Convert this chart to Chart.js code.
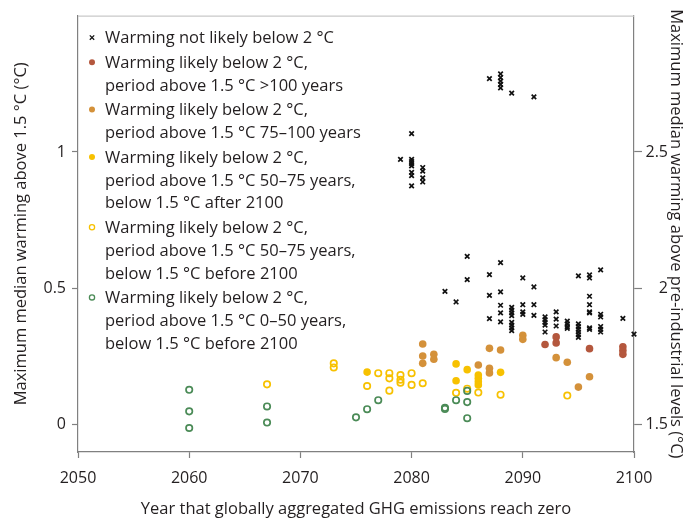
<!DOCTYPE html>
<html><head><meta charset="utf-8">
<script src="https://cdn.jsdelivr.net/npm/chart.js@4"></script>
<style>html,body{margin:0;padding:0;background:#fff}#wrap{width:686px;height:519px}</style>
</head><body>
<div id="wrap"><canvas id="c" width="686" height="519"></canvas></div>
<script>
// ---- tick labels ----
const xTickValues = [2050, 2060, 2070, 2080, 2090, 2100];
const leftTickValues = [0, 0.5, 1];
const rightTickValues = [1.5, 2, 2.5];

// ---- series: Warming not likely below 2 °C ----
const notLikelyYears = [2079,
  2080,2080,2080,2080,2080,2080,2080,2080,
  2081,2081,2081,2081,
  2083, 2084, 2085,2085,
  2087,2087,2087,2087,
  2088,2088,2088,2088,2088,2088,2088,2088,2088,2088,
  2089,2089,2089,2089,2089,2089,2089,2089,2089,
  2090,2090,2090,2090,
  2091,2091,2091,2091,
  2092,2092,2092,2092,2092,
  2093,2093,2093,
  2094,2094,2094,2094,
  2095,2095,2095,2095,2095,2095,2095,
  2096,2096,2096,2096,2096,2096,2096,2096,
  2097,2097,2097,2097,2097,2097,
  2099, 2100];
const notLikelyValues = [0.973,
  1.067,0.973,0.965,0.957,0.949,0.925,0.913,0.876,
  0.943,0.93,0.905,0.89,
  0.489, 0.45, 0.617,0.532,
  1.269,0.55,0.474,0.389,
  1.286,1.273,1.26,1.248,1.235,0.594,0.487,0.438,0.41,0.377,
  1.216,0.43,0.42,0.41,0.40,0.375,0.365,0.355,0.345,
  0.538,0.44,0.414,0.405,
  1.202,0.505,0.44,0.401,
  0.395,0.385,0.375,0.365,0.34,
  0.414,0.387,0.362,
  0.38,0.37,0.36,0.353,
  0.546,0.37,0.36,0.35,0.34,0.33,0.32,
  0.549,0.538,0.471,0.44,0.414,0.41,0.355,0.35,
  0.568,0.405,0.395,0.36,0.35,0.34,
  0.39, 0.332];

// ---- period above 1.5 °C >100 years ----
const over100Years = [2092,2093,2093,2096,2099,2099,2099];
const over100Values = [0.294,0.322,0.30,0.279,0.286,0.272,0.258];

// ---- period above 1.5 °C 75–100 years ----
const p75to100Years = [2081,2081,2081,2082,2082,2086,2087,2087,2087,2088,2090,2090,2093,2094,2095,2096];
const p75to100Values = [0.296,0.252,0.225,0.258,0.24,0.219,0.28,0.207,0.19,0.274,0.328,0.313,0.246,0.229,0.138,0.176];

// ---- 50–75 years, below 1.5 °C after 2100 ----
const p50to75AfterYears = [2076,2084,2084,2085,2086,2086,2086,2086,2088];
const p50to75AfterValues = [0.193,0.223,0.161,0.202,0.182,0.17,0.158,0.146,0.192];

// ---- 50–75 years, below 1.5 °C before 2100 ----
const p50to75BeforeYears = [2067,2073,2073,2076,2077,2078,2078,2078,2079,2079,2079,2080,2080,2081,2084,2085,2086,2088,2094];
const p50to75BeforeValues = [0.148,0.225,0.21,0.142,0.189,0.189,0.17,0.125,0.182,0.165,0.154,0.189,0.146,0.152,0.117,0.132,0.118,0.11,0.107];

// ---- 0–50 years, below 1.5 °C before 2100 ----
const p0to50Years = [2060,2060,2060,2067,2067,2075,2076,2077,2083,2083,2084,2085,2085,2085];
const p0to50Values = [0.128,0.049,-0.012,0.067,0.008,0.027,0.057,0.09,0.062,0.058,0.09,0.124,0.083,0.024];

// ---- legend labels ----
const legendLabels = [
  ['Warming not likely below 2 °C'],
  ['Warming likely below 2 °C,', 'period above 1.5 °C >100 years'],
  ['Warming likely below 2 °C,', 'period above 1.5 °C 75\u2013100 years'],
  ['Warming likely below 2 °C,', 'period above 1.5 °C 50\u201375 years,', 'below 1.5 °C after 2100'],
  ['Warming likely below 2 °C,', 'period above 1.5 °C 50\u201375 years,', 'below 1.5 °C before 2100'],
  ['Warming likely below 2 °C,', 'period above 1.5 °C 0\u201350 years,', 'below 1.5 °C before 2100']
];

const FONT = '"Open Sans", "Noto Sans", sans-serif';
const TEXT = '#231f20';
const AXIS = '#808080';
const COL_BROWN = '#b4573d', COL_OCHRE = '#d4913a', COL_YELLOW = '#f7c100', COL_GREEN = '#4b8b57';

const pts = (xs, ys) => xs.map((x, i) => ({x: x, y: ys[i]}));

const styles = [
  {type: 'cross', color: '#111'},
  {type: 'fill', color: COL_BROWN},
  {type: 'fill', color: COL_OCHRE},
  {type: 'fill', color: COL_YELLOW},
  {type: 'open', color: COL_YELLOW},
  {type: 'open', color: COL_GREEN}
];
function dsFor(data, st, order) {
  const base = {data: data, order: order, showLine: false, clip: false};
  if (st.type === 'cross') return Object.assign(base, {pointStyle: 'crossRot', pointRadius: 3.2, borderWidth: 1.7, borderColor: st.color, backgroundColor: st.color});
  if (st.type === 'fill') return Object.assign(base, {pointStyle: 'circle', pointRadius: 3.8, borderWidth: 0, borderColor: st.color, backgroundColor: st.color});
  return Object.assign(base, {pointStyle: 'circle', pointRadius: 3.2, borderWidth: 1.7, borderColor: st.color, backgroundColor: 'rgba(255,255,255,0)'});
}
const seriesData = [
  pts(notLikelyYears, notLikelyValues),
  pts(over100Years, over100Values),
  pts(p75to100Years, p75to100Values),
  pts(p50to75AfterYears, p50to75AfterValues),
  pts(p50to75BeforeYears, p50to75BeforeValues),
  pts(p0to50Years, p0to50Values)
];
const datasets = seriesData.map((d, i) => Object.assign(dsFor(d, styles[i], 6 - i), {label: legendLabels[i].join(' ')}));

const legendPlugin = {
  id: 'customLegend',
  afterDraw(chart) {
    const ctx = chart.ctx;
    const ca = chart.chartArea;
    const mx = ca.left + 14, tx = ca.left + 27;
    let y = ca.top + 22;
    const lineH = 22.8, groupGap = 1.8;
    ctx.save();
    ctx.font = '16.5px ' + FONT;
    ctx.fillStyle = TEXT;
    ctx.textBaseline = 'middle';
    ctx.textAlign = 'left';
    legendLabels.forEach((lines, gi) => {
      const st = styles[gi];
      ctx.save();
      if (st.type === 'cross') {
        ctx.strokeStyle = st.color; ctx.lineWidth = 1.3;
        const r = 2.2;
        ctx.beginPath(); ctx.moveTo(mx - r, y - r); ctx.lineTo(mx + r, y + r);
        ctx.moveTo(mx - r, y + r); ctx.lineTo(mx + r, y - r); ctx.stroke();
      } else if (st.type === 'fill') {
        ctx.fillStyle = st.color; ctx.beginPath(); ctx.arc(mx, y, 3, 0, Math.PI * 2); ctx.fill();
      } else {
        ctx.strokeStyle = st.color; ctx.lineWidth = 1.3; ctx.beginPath(); ctx.arc(mx, y, 2.6, 0, Math.PI * 2); ctx.stroke();
      }
      ctx.restore();
      lines.forEach((t, li) => {
        ctx.fillText(t, tx, y + 1);
        if (li < lines.length - 1) y += lineH;
      });
      y += lineH + groupGap;
    });
    ctx.restore();
  }
};

const framePlugin = {
  id: 'frame',
  beforeDatasetsDraw(chart) {
    const ctx = chart.ctx, ca = chart.chartArea;
    ctx.save();
    ctx.strokeStyle = '#c9c9c9'; ctx.lineWidth = 1.2;
    ctx.beginPath(); ctx.moveTo(ca.left, ca.top + 0.5); ctx.lineTo(ca.right, ca.top + 0.5); ctx.stroke();
    ctx.restore();
  }
};

new Chart(document.getElementById('c'), {
  type: 'scatter',
  data: {datasets: datasets},
  plugins: [framePlugin, legendPlugin],
  options: {
    responsive: false,
    animation: false,
    devicePixelRatio: 1,
    layout: {padding: {top: 15, left: 0, right: 18, bottom: 0}},
    plugins: {legend: {display: false}, tooltip: {enabled: false}},
    scales: {
      x: {
        type: 'linear', position: 'bottom', min: 2050, max: 2100,
        afterBuildTicks: s => { s.ticks = xTickValues.map(v => ({value: v})); },
        afterFit: s => { s.height = 67; },
        grid: {drawOnChartArea: false, drawTicks: true, tickLength: 6, color: AXIS, tickWidth: 1.2},
        border: {display: true, color: AXIS, width: 1.2},
        ticks: {color: TEXT, font: {family: FONT, size: 16}, padding: 11, maxRotation: 0, callback: v => String(v)},
        title: {display: true, text: 'Year that globally aggregated GHG emissions reach zero', color: TEXT, font: {family: FONT, size: 16.5}, padding: {top: 0, bottom: 0}}
      },
      y: {
        type: 'linear', position: 'left', min: -0.1, max: 1.5,
        afterBuildTicks: s => { s.ticks = leftTickValues.map(v => ({value: v})); },
        afterFit: s => { s.width = 78; },
        grid: {drawOnChartArea: false, drawTicks: true, tickLength: 6, color: AXIS, tickWidth: 1.2},
        border: {display: true, color: AXIS, width: 1.2},
        ticks: {color: TEXT, font: {family: FONT, size: 16}, padding: 6, callback: v => String(v)},
        title: {display: true, text: 'Maximum median warming above 1.5 °C (°C)', color: TEXT, font: {family: FONT, size: 16.5}, padding: {top: 11, bottom: 0}}
      },
      y2: {
        type: 'linear', position: 'right', min: 1.4, max: 3.0,
        afterBuildTicks: s => { s.ticks = rightTickValues.map(v => ({value: v})); },
        afterFit: s => { s.width = 34; },
        grid: {drawOnChartArea: false, drawTicks: true, tickLength: 8, color: AXIS, tickWidth: 1.2},
        border: {display: true, color: AXIS, width: 1.2},
        ticks: {color: TEXT, font: {family: FONT, size: 16}, padding: 4, crossAlign: 'far', callback: v => String(v)},
        title: {display: true, text: 'Maximum median warming above pre-industrial levels (°C)', color: TEXT, font: {family: FONT, size: 16.5}, padding: {top: -17.5, bottom: 0}}
      }
    }
  }
});
</script>
</body></html>
